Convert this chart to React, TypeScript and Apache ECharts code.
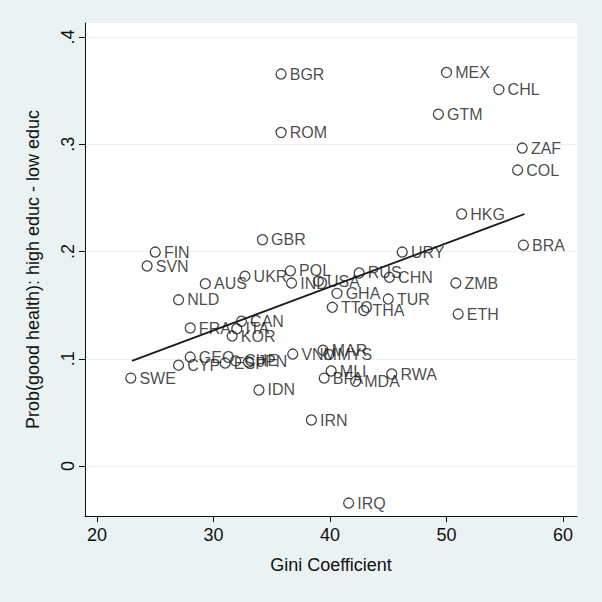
import React, { useEffect, useRef } from "react";
import * as echarts from "echarts";

const countries = ["BGR","MEX","CHL","GTM","ROM","ZAF","COL","HKG","GBR","BRA","FIN","URY","SVN","UKR","POL","AUS","IND","USA","RUS","CHN","ZMB","GHA","TUR","TTO","THA","ETH","NLD","FRA","CAN","ITA","KOR","GEO","CYP","CHE","ESP","JPN","VNM","MAR","MYS","MLI","BFA","MDA","RWA","SWE","IDN","IRN","IRQ"];
const gini = [35.8,50.0,54.5,49.3,35.8,56.5,56.1,51.3,34.2,56.6,25.0,46.2,24.3,32.7,36.6,29.3,36.7,39.0,42.5,45.1,50.8,40.6,45.0,40.2,42.9,51.0,27.0,28.0,32.4,32.0,31.6,28.0,27.0,31.9,31.0,33.0,36.8,39.4,39.9,40.1,39.5,42.2,45.3,22.9,33.9,38.4,41.6];
const diff = [0.3655,0.367,0.351,0.328,0.311,0.2965,0.276,0.235,0.211,0.206,0.1995,0.1995,0.1865,0.177,0.182,0.170,0.1706,0.1725,0.180,0.176,0.1706,0.161,0.1557,0.148,0.145,0.1417,0.155,0.1287,0.135,0.128,0.1212,0.1016,0.094,0.098,0.096,0.097,0.1044,0.108,0.104,0.0886,0.082,0.079,0.0858,0.082,0.0709,0.0429,-0.0345];
const fitX = [23.0, 56.7];
const fitY = [0.098, 0.235];
const xTicks = [20, 30, 40, 50, 60];
const yTicks = [0, 0.1, 0.2, 0.3, 0.4];

export default function App() {
  const ref = useRef<HTMLDivElement>(null);
  useEffect(() => {
    document.body.style.margin = "0";
    const chart = echarts.init(ref.current!, null, { renderer: "svg" });
    const font = "'Liberation Sans', Arial, Helvetica, sans-serif";
    chart.setOption({
      animation: false,
      backgroundColor: "#EAF2F3",
      textStyle: { fontFamily: font },
      grid: { left: 85, top: 23, right: 25, bottom: 86, show: true, backgroundColor: "#ffffff", borderWidth: 0 },
      xAxis: {
        type: "value",
        min: 18.97,
        max: 61.2,
        name: "Gini Coefficient",
        nameLocation: "middle",
        nameGap: 40,
        nameTextStyle: { fontSize: 18, color: "#111", fontFamily: font },
        axisLine: { show: true, onZero: false, lineStyle: { color: "#111", width: 1 } },
        axisTick: { show: true, length: 6, customValues: xTicks, lineStyle: { color: "#111" } },
        axisLabel: { customValues: xTicks, fontSize: 18, color: "#111", margin: 10, fontFamily: font },
        splitLine: { show: false },
      },
      yAxis: {
        type: "value",
        min: -0.0466,
        max: 0.4131,
        name: "Prob(good health): high educ - low educ",
        nameLocation: "middle",
        nameGap: 43,
        nameTextStyle: { fontSize: 18, color: "#111", fontFamily: font },
        axisLine: { show: true, onZero: false, lineStyle: { color: "#111", width: 1 } },
        axisTick: { show: true, length: 6, customValues: yTicks, lineStyle: { color: "#111" } },
        axisLabel: {
          customValues: yTicks,
          rotate: 90,
          fontSize: 18,
          color: "#111",
          margin: 8,
          fontFamily: font,
          formatter: (v: number) => (v === 0 ? "0" : v.toFixed(1).replace(/^0/, "")),
        },
        splitLine: { show: true, lineStyle: { color: "#EAF2F3", width: 1 } },
      },
      series: [
        {
          type: "scatter",
          data: gini.map((g, i) => [g, diff[i], countries[i]]),
          symbol: "circle",
          symbolSize: 10,
          itemStyle: { color: "transparent", borderColor: "#1a1a1a", borderWidth: 1.3 },
          label: {
            show: true,
            position: "right",
            distance: 3,
            formatter: (p: any) => p.data[2],
            fontSize: 16,
            color: "#1a1a1a",
            fontFamily: font,
          },
          z: 3,
        },
        {
          type: "line",
          data: fitX.map((x, i) => [x, fitY[i]]),
          showSymbol: false,
          symbol: "none",
          lineStyle: { color: "#1a1a1a", width: 1.8 },
          z: 2,
        },
      ],
    });
    return () => chart.dispose();
  }, []);
  return <div ref={ref} style={{ width: 602, height: 602 }} />;
}
